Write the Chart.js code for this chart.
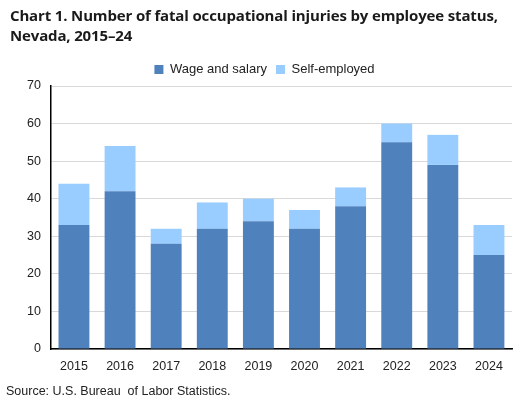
<!DOCTYPE html>
<html>
<head>
<meta charset="utf-8">
<script src="https://cdn.jsdelivr.net/npm/chart.js@4"></script>
<style>
  body { margin: 0; background: #fff; }
  #wrap { position: relative; width: 528px; height: 407px; }
  #title { position: absolute; left: 10px; top: 5px; font: bold 15px "Open Sans", sans-serif; line-height: 20px; color: #1a1a1a; letter-spacing: -0.15px; }
  #source { position: absolute; left: 6px; top: 384px; font: 12.5px "Liberation Sans", Arial, sans-serif; color: #222; }
  canvas { position: absolute; left: 0; top: 0; }
</style>
</head>
<body>
<div id="wrap">
  <canvas id="chart" width="528" height="407"></canvas>
  <div id="title">Chart 1. Number of fatal occupational injuries by employee status,<br>Nevada, 2015–24</div>
  <div id="source">Source: U.S. Bureau &nbsp;of Labor Statistics.</div>
</div>
<script>
var years = ['2015', '2016', '2017', '2018', '2019', '2020', '2021', '2022', '2023', '2024'];
var wageAndSalary = [33, 42, 28, 32, 34, 32, 38, 55, 49, 25];
var selfEmployed = [11, 12, 4, 7, 6, 5, 5, 5, 8, 8];
var yTicks = [0, 10, 20, 30, 40, 50, 60, 70];

document.addEventListener("DOMContentLoaded", function() {
  var ctx = document.getElementById('chart').getContext('2d');
  new Chart(ctx, {
    type: 'bar',
    data: {
      labels: years,
      datasets: [{
        label: 'Wage and salary',
        data: wageAndSalary,
        backgroundColor: '#4F81BD',
        barPercentage: 0.67,
        categoryPercentage: 1
      }, {
        label: 'Self-employed',
        data: selfEmployed,
        backgroundColor: '#99CCFF',
        barPercentage: 0.67,
        categoryPercentage: 1
      }]
    },
    options: {
      responsive: false,
      animation: false,
      layout: { padding: { left: 17, right: 16, top: 54, bottom: 23 } },
      plugins: {
        legend: {
          position: 'top',
          labels: {
            boxWidth: 9, boxHeight: 9, padding: 9,
            color: '#222',
            font: { family: 'Liberation Sans', size: 13 }
          }
        },
        title: { display: false },
        tooltip: { enabled: false }
      },
      scales: {
        x: {
          stacked: true,
          grid: { display: false, drawTicks: false },
          border: { color: '#000', width: 1.5 },
          ticks: { color: '#222', padding: 10, font: { family: 'Liberation Sans', size: 12.5 } }
        },
        y: {
          stacked: true,
          min: 0, max: 70,
          afterBuildTicks: function(axis) { axis.ticks = yTicks.map(function(v) { return { value: v }; }); },
          grid: { color: '#d9d9d9', lineWidth: 1, drawTicks: false },
          border: { color: '#000', width: 1.5 },
          ticks: { color: '#222', padding: 10, font: { family: 'Liberation Sans', size: 12.5 } }
        }
      }
    }
  });
});
</script>
</body>
</html>
